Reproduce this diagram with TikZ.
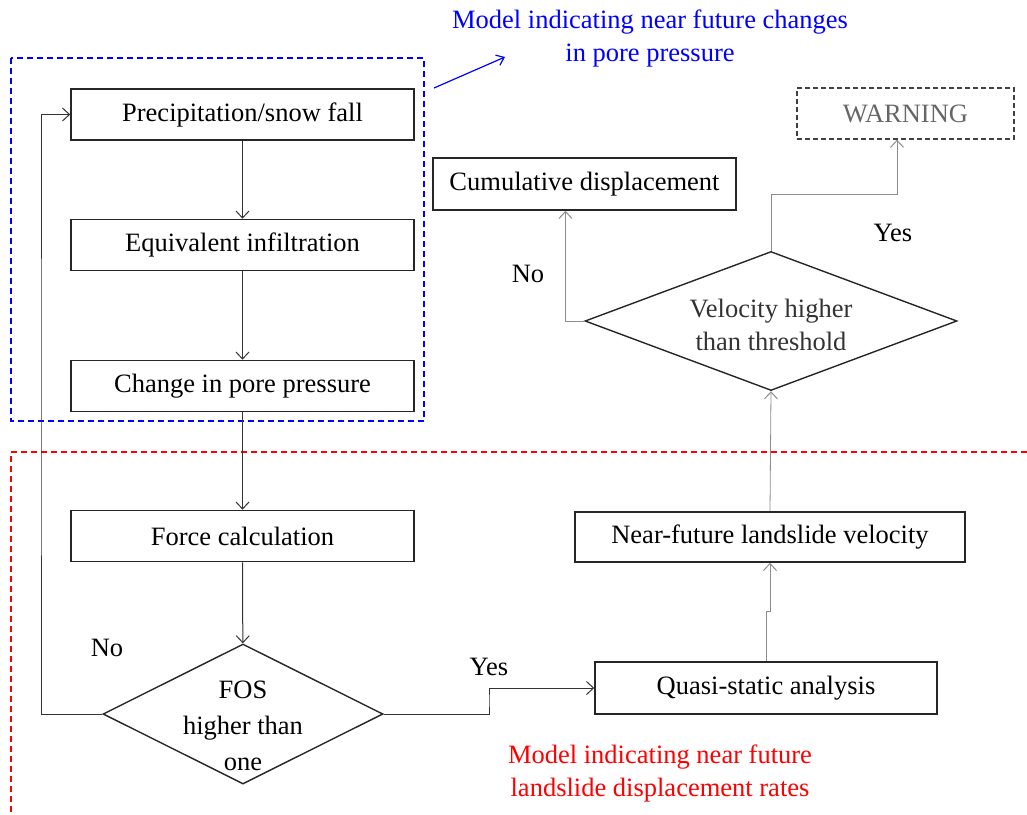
\documentclass[tikz,border=0pt]{standalone}
\usepackage{fontspec}
\setmainfont{Liberation Serif}
\usetikzlibrary{shapes.geometric,arrows.meta}
\tikzset{
  box/.style={draw=black!85, line width=1.6pt, inner sep=0pt, align=center},
  dia/.style={diamond, draw=black!85, line width=1.4pt, inner sep=0pt},
  conn/.style={line width=1pt, draw=black!80, -{Straight Barb[length=7pt,width=13pt,line width=1pt]}},
  faint/.style={line width=0.8pt, draw=black!45, -{Straight Barb[length=7pt,width=13pt,line width=1pt]}},
  lbl/.style={inner sep=1pt, align=center},
  every node/.style={font=\fontsize{26.5}{33}\selectfont}
}
\begin{document}
\begin{tikzpicture}[x=1pt,y=-1pt]
\useasboundingbox (0,0) rectangle (1027,814);
% regions
\draw[blue, dashed, dash pattern=on 6pt off 4pt, line width=1.2pt] (11,58) rectangle (424,421);
\draw[red, dash pattern=on 6pt off 4pt, line width=1.2pt] (1027,452) -- (11,452) -- (11,814);
\node[lbl, text=blue] (bt) at (650,38) {Model indicating near future changes\\in pore pressure};
\node[lbl, text=red] (rt) at (660,773) {Model indicating near future\\landslide displacement rates};
\coordinate (ba) at (434,88);
\coordinate (bb) at (505,57);
\draw[blue, line width=1.2pt, -{Straight Barb[length=7pt,width=11pt]}] (ba) -- (bb);
% left column
\node[box, minimum width=343pt, minimum height=51pt] (p1) at (242.5,114.5) {Precipitation/snow fall};
\node[box, minimum width=343pt, minimum height=51pt] (p2) at (242.5,245) {Equivalent infiltration};
\node[box, minimum width=343pt, minimum height=51pt] (p3) at (242.5,386) {Change in pore pressure};
\node[box, minimum width=343pt, minimum height=51pt] (p4) at (242.5,536) {Force calculation};
\node[dia, minimum width=280pt, minimum height=140pt] (fos) at (243,714) {};
\node[lbl, font=\fontsize{26.5}{36}\selectfont] (fost) at (243,726) {FOS\\higher than\\one};
% right column
\node[box, minimum width=342pt, minimum height=52pt] (quasi) at (766,688) {Quasi-static analysis};
\node[box, minimum width=390pt, minimum height=50pt] (near) at (770,537) {Near-future landslide velocity};
\node[dia, minimum width=372pt, minimum height=139pt] (vel) at (771,321) {};
\node[lbl, text=black!80] (velt) at (771,325) {Velocity higher\\than threshold};
\node[box, minimum width=303pt, minimum height=52pt] (cum) at (584.5,184) {Cumulative displacement};
\node[box, draw=black!75, dashed, dash pattern=on 5pt off 3pt, line width=1.3pt, minimum width=217pt, minimum height=51pt, text=black!60] (warn) at (905.5,113.5) {WARNING};
% labels
\node[lbl] (no1) at (107,648) {No};
\node[lbl] (yes1) at (489,667) {Yes};
\node[lbl] (no2) at (528,274) {No};
\node[lbl] (yes2) at (893,233) {Yes};
% connectors
\draw[conn] (p1) -- (p2);
\draw[conn] (p2) -- (p3);
\draw[conn] (p3) -- (p4);
\draw[conn] (p4) -- (fos);
\coordinate (lp) at (41,400);
\draw[conn] (fos.west) -| (lp) |- (p1.west);
\coordinate (yj) at (489,700);
\draw[conn] (fos.east) -| (yj) |- (quasi.west);
\draw[faint] (quasi.north) -- ++(0,-50) -| (near.south);
\draw[faint] (near.north) -- (vel.south);
\draw[faint] (vel.west) -| ([xshift=-19pt]cum.south);
\coordinate (yk) at (897,194);
\draw[faint] (vel.north) |- (yk) -- ([xshift=-8.5pt]warn.south);
\end{tikzpicture}
\end{document}
